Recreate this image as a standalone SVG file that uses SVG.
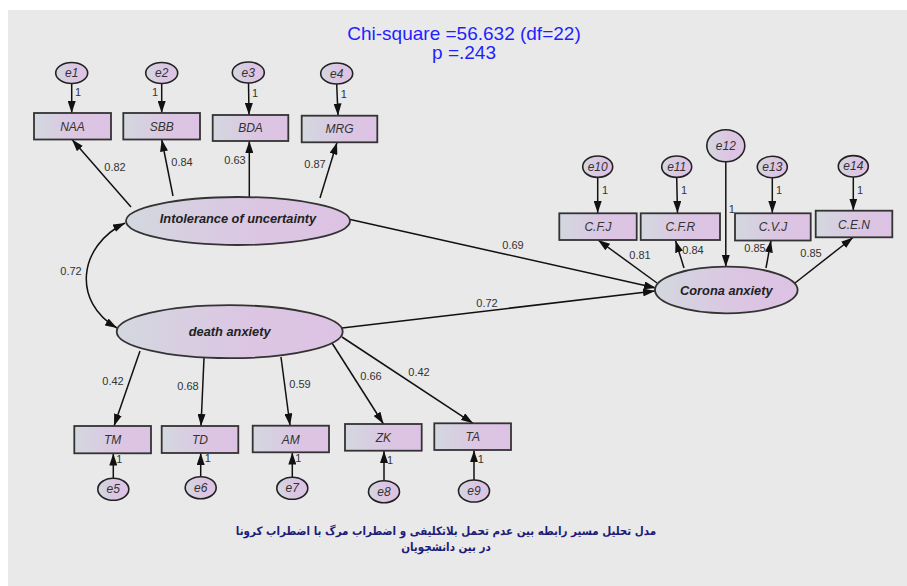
<svg xmlns="http://www.w3.org/2000/svg" width="907" height="586" viewBox="0 0 907 586">
<defs>
<linearGradient id="g" x1="0" y1="0" x2="1" y2="0">
<stop offset="0" stop-color="#d3d8df"/>
<stop offset="0.6" stop-color="#dcc5e3"/>
<stop offset="1" stop-color="#dcc3e3"/>
</linearGradient>
<marker id="arr" viewBox="0 0 12 8" refX="12" refY="4" markerWidth="12" markerHeight="8" orient="auto-start-reverse" markerUnits="userSpaceOnUse">
<path d="M0,0 L12,4 L0,8 z" fill="#111"/>
</marker>
<style>
.box{fill:url(#g);stroke:#333;stroke-width:1.8}
.lat{fill:url(#g);stroke:#333;stroke-width:1.8}
.err{fill:url(#g);stroke:#222;stroke-width:1.6}
.t{font-family:"Liberation Sans",Arial,sans-serif;font-style:italic;font-size:12px;fill:#333;text-anchor:middle}
.lt{font-family:"Liberation Sans",Arial,sans-serif;font-style:italic;font-weight:bold;font-size:12.8px;fill:#222;text-anchor:middle}
.n{font-family:"Liberation Sans",Arial,sans-serif;font-size:11px;fill:#333;text-anchor:middle}
.c{fill:none;stroke:#111;stroke-width:1.5;marker-end:url(#arr)}
</style>
</defs>
<rect x="0" y="0" width="907" height="586" fill="#ffffff"/>
<rect x="8" y="10" width="899" height="576" fill="#e9e9e9"/>

<g id="title" font-family="'Liberation Sans',Arial,sans-serif" font-size="19" fill="#1f1fff" text-anchor="middle">
<text x="464" y="39.5">Chi-square =56.632 (df=22)</text>
<text x="464" y="59">p =.243</text>
</g>

<g id="connectors">
<line class="c" x1="71.7" y1="83.5" x2="71.7" y2="113"/>
<line class="c" x1="161.7" y1="84" x2="161.7" y2="113"/>
<line class="c" x1="248.5" y1="83" x2="249" y2="115"/>
<line class="c" x1="336.7" y1="84" x2="338" y2="115.5"/>
<line class="c" x1="131" y1="207" x2="72" y2="139.5"/>
<line class="c" x1="173" y1="196" x2="161.7" y2="139.5"/>
<line class="c" x1="249.3" y1="197" x2="249.3" y2="141"/>
<line class="c" x1="320" y1="198" x2="337" y2="142.5"/>
<line class="c" x1="348" y1="219" x2="656" y2="288"/>
<line class="c" x1="342" y1="328" x2="655" y2="291"/>
<path class="c" d="M125,223 C78,246 72,302 117,328" marker-start="url(#arr)"/>
<line class="c" x1="657" y1="283" x2="598" y2="240"/>
<line class="c" x1="684" y1="268" x2="675.5" y2="240.5"/>
<line class="c" x1="766" y1="268" x2="771" y2="240.5"/>
<line class="c" x1="795" y1="283" x2="853" y2="237.5"/>
<line class="c" x1="725.8" y1="162" x2="725.8" y2="267"/>
<line class="c" x1="597.7" y1="177.5" x2="597.7" y2="213"/>
<line class="c" x1="676.7" y1="177.5" x2="677.5" y2="213"/>
<line class="c" x1="772.3" y1="177.5" x2="772.3" y2="213"/>
<line class="c" x1="853.3" y1="177" x2="853.3" y2="210.5"/>
<line class="c" x1="140" y1="351" x2="114" y2="426"/>
<line class="c" x1="204" y1="358" x2="201" y2="426"/>
<line class="c" x1="281" y1="357" x2="290" y2="425.5"/>
<line class="c" x1="332" y1="343" x2="383.5" y2="424"/>
<line class="c" x1="342" y1="337" x2="473" y2="423.3"/>
<line class="c" x1="113.3" y1="478.5" x2="113.3" y2="453.5"/>
<line class="c" x1="200.7" y1="477" x2="200.7" y2="453"/>
<line class="c" x1="292.3" y1="477.5" x2="292.3" y2="452.5"/>
<line class="c" x1="384" y1="480.5" x2="384" y2="451"/>
<line class="c" x1="474" y1="480" x2="474" y2="450.3"/>
<g class="n">
<text x="78" y="96">1</text>
<text x="155" y="96">1</text>
<text x="255" y="97">1</text>
<text x="343.7" y="98">1</text>
<text x="605" y="194">1</text>
<text x="684" y="194">1</text>
<text x="731.7" y="213">1</text>
<text x="779" y="194">1</text>
<text x="860" y="194">1</text>
<text x="119.3" y="463">1</text>
<text x="207.7" y="462">1</text>
<text x="298.3" y="462">1</text>
<text x="390" y="464">1</text>
<text x="480.7" y="463">1</text>
<text x="115" y="171">0.82</text>
<text x="182" y="166">0.84</text>
<text x="235" y="164">0.63</text>
<text x="315" y="168">0.87</text>
<text x="513" y="249">0.69</text>
<text x="487" y="307">0.72</text>
<text x="640" y="259">0.81</text>
<text x="693" y="254">0.84</text>
<text x="755" y="252">0.85</text>
<text x="811" y="257">0.85</text>
<text x="71" y="275">0.72</text>
<text x="113" y="385">0.42</text>
<text x="188" y="390">0.68</text>
<text x="300" y="388">0.59</text>
<text x="371" y="380">0.66</text>
<text x="419" y="376">0.42</text>
</g>
</g>

<g id="e1"><ellipse class="err" cx="71.7" cy="73" rx="16" ry="10.5"/><text class="t" x="71.7" y="77">e1</text></g>
<g id="e2"><ellipse class="err" cx="161.7" cy="73" rx="16" ry="10.5"/><text class="t" x="161.7" y="77">e2</text></g>
<g id="e3"><ellipse class="err" cx="248.3" cy="72.5" rx="16" ry="10.5"/><text class="t" x="248.3" y="76.5">e3</text></g>
<g id="e4"><ellipse class="err" cx="336.7" cy="73.5" rx="16" ry="10.5"/><text class="t" x="336.7" y="77.5">e4</text></g>

<g id="NAA"><rect class="box" x="34" y="113" width="77" height="26.5"/><text class="t" x="72.5" y="130.5">NAA</text></g>
<g id="SBB"><rect class="box" x="123.3" y="113" width="76.7" height="26.5"/><text class="t" x="161.7" y="130.5">SBB</text></g>
<g id="BDA"><rect class="box" x="212.7" y="115" width="75.6" height="26"/><text class="t" x="250.5" y="132">BDA</text></g>
<g id="MRG"><rect class="box" x="301.7" y="115.7" width="75.6" height="26.6"/><text class="t" x="339.5" y="133">MRG</text></g>

<g id="intolerance"><ellipse class="lat" cx="238" cy="221" rx="112" ry="24"/><text class="lt" x="238" y="222.5">Intolerance of uncertainty</text></g>
<g id="death"><ellipse class="lat" cx="229.7" cy="331.7" rx="113" ry="26.5"/><text class="lt" x="229.7" y="336">death anxiety</text></g>
<g id="corona"><ellipse class="lat" cx="726.3" cy="290" rx="71.3" ry="23.3"/><text class="lt" x="726.3" y="294.5">Corona anxiety</text></g>

<g id="e10"><ellipse class="err" cx="597.7" cy="166.7" rx="15" ry="10.7"/><text class="t" x="597.7" y="170.7">e10</text></g>
<g id="e11"><ellipse class="err" cx="676.7" cy="166.7" rx="15" ry="10.7"/><text class="t" x="676.7" y="170.7">e11</text></g>
<g id="e12"><ellipse class="err" cx="725.8" cy="145.8" rx="19" ry="16"/><text class="t" x="725.8" y="150">e12</text></g>
<g id="e13"><ellipse class="err" cx="772.3" cy="167" rx="15" ry="10.7"/><text class="t" x="772.3" y="171">e13</text></g>
<g id="e14"><ellipse class="err" cx="853.3" cy="166.3" rx="15" ry="10.7"/><text class="t" x="853.3" y="170.3">e14</text></g>

<g id="CFJ"><rect class="box" x="559.3" y="213.3" width="77.4" height="26.7"/><text class="t" x="598" y="231">C.F.J</text></g>
<g id="CFR"><rect class="box" x="640.7" y="213.3" width="79.3" height="26.7"/><text class="t" x="680.3" y="231">C.F.R</text></g>
<g id="CVJ"><rect class="box" x="735" y="213.3" width="75.7" height="27.2"/><text class="t" x="773" y="231">C.V.J</text></g>
<g id="CEN"><rect class="box" x="815.7" y="210.7" width="76.6" height="26.6"/><text class="t" x="854" y="228.5">C.E.N</text></g>

<g id="TM"><rect class="box" x="74.3" y="426" width="76.7" height="27.3"/><text class="t" x="112.7" y="444">TM</text></g>
<g id="TD"><rect class="box" x="161.7" y="426" width="76.6" height="27"/><text class="t" x="200" y="444">TD</text></g>
<g id="AM"><rect class="box" x="252.7" y="425.7" width="76.3" height="26.6"/><text class="t" x="290.8" y="443.5">AM</text></g>
<g id="ZK"><rect class="box" x="345" y="424" width="76.7" height="26.7"/><text class="t" x="383.3" y="441.5">ZK</text></g>
<g id="TA"><rect class="box" x="434.3" y="423.3" width="76.7" height="26.7"/><text class="t" x="472.7" y="441">TA</text></g>

<g id="e5"><ellipse class="err" cx="113.3" cy="489.3" rx="15.5" ry="11"/><text class="t" x="113.3" y="493.3">e5</text></g>
<g id="e6"><ellipse class="err" cx="200.7" cy="487.7" rx="15.5" ry="11"/><text class="t" x="200.7" y="491.7">e6</text></g>
<g id="e7"><ellipse class="err" cx="292.3" cy="488.3" rx="15.5" ry="11"/><text class="t" x="292.3" y="492.3">e7</text></g>
<g id="e8"><ellipse class="err" cx="384" cy="491.7" rx="15.5" ry="11"/><text class="t" x="384" y="495.7">e8</text></g>
<g id="e9"><ellipse class="err" cx="474" cy="491" rx="15.5" ry="11"/><text class="t" x="474" y="495">e9</text></g>

<g id="caption" font-family="'DejaVu Sans Condensed','DejaVu Sans',sans-serif" font-weight="bold" font-size="11.5" fill="#1c1c7a" text-anchor="middle" direction="rtl">
<text x="446" y="535">مدل تحلیل مسیر رابطه بین عدم تحمل بلاتکلیفی و اضطراب مرگ با اضطراب کرونا</text>
<text x="446" y="551">در بین دانشجویان</text>
</g>
</svg>
